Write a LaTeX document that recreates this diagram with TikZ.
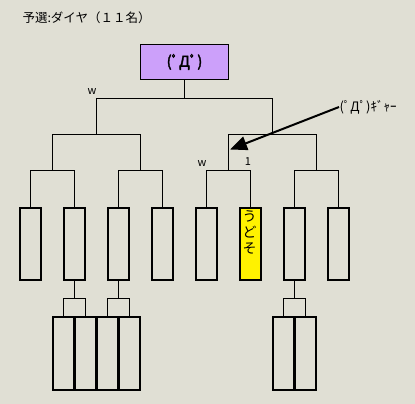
\documentclass[tikz,border=0pt]{standalone}
\usepackage{fontspec}
\newfontfamily\jp{Noto Sans CJK JP}
\newfontfamily\jpb[FakeBold=2.5]{Noto Sans CJK JP}
\usetikzlibrary{arrows.meta}
\usepackage{xcolor}
\definecolor{bg}{RGB}{224,223,212}
\definecolor{lila}{RGB}{204,160,250}

\tikzset{
  slot/.style={draw, line width=2pt, minimum width=21pt, minimum height=72pt, inner sep=0pt},
  lbl/.style={font=\jp\fontsize{11}{11}\selectfont, inner sep=0pt}
}

\begin{document}
\begin{tikzpicture}[x=1pt,y=-1pt,line width=1pt]
\useasboundingbox[fill=bg] (0,0) rectangle (415,404);
\node[font=\jp\fontsize{12.5}{12.5}\selectfont, anchor=west, inner sep=0pt] (title) at (22,18) {予選:ダイヤ（１１名）};
\node[draw, fill=lila, minimum width=88pt, minimum height=35pt, inner sep=0pt,
      font=\jpb\fontsize{15}{15}\selectfont] (champ) at (184.5,62) {(ﾟДﾟ)};
\foreach \i/\f in {1/bg,2/bg,3/bg,4/bg,5/bg,6/yellow,7/bg,8/bg}
  \node[slot, fill=\f] (r\i) at ({30.5+44*(\i-1)},243.5) {};
\node[lbl, font=\jp\fontsize{14}{16}\selectfont, align=center, anchor=north] (udo) at (249.5,210) {う\\ど\\そ};
\foreach \i/\x in {1/63,2/85,3/107,4/129,5/283,6/305}
  \node[slot, minimum height=73pt] (q\i) at (\x,353) {};
\coordinate (a1) at (52.5,170.5);
\coordinate (a2) at (140.5,170.5);
\coordinate (a3) at (228.5,170.5);
\coordinate (a4) at (316.5,170.5);
\coordinate (b1) at (96.5,134.5);
\coordinate (b2) at (272.5,134.5);
\coordinate (c) at (184.5,98.5);
\coordinate (d1) at (74.5,298.5);
\coordinate (d2) at (118.5,298.5);
\coordinate (d3) at (294.5,298.5);
\draw (r1.north) |- (a1) -| (r2.north);
\draw (r3.north) |- (a2) -| (r4.north);
\draw (r5.north) |- (a3) -| (r6.north);
\draw (r7.north) |- (a4) -| (r8.north);
\draw (a1) |- (b1) -| (a2);
\draw (a3) |- (b2) -| (a4);
\draw (b1) |- (c) -| (b2);
\draw (c) -- (champ.south);
\draw (r2.south) -- (d1);
\draw (r3.south) -- (d2);
\draw (r7.south) -- (d3);
\draw (q1.north) |- (d1) -| (q2.north);
\draw (q3.north) |- (d2) -| (q4.north);
\draw (q5.north) |- (d3) -| (q6.north);
\node[lbl] (w1) at (92,92) {w};
\node[lbl] (w2) at (202,164) {w};
\node[lbl] (one) at (248,162) {1};
\node[lbl, font=\jp\fontsize{13}{13}\selectfont, anchor=west] (gya) at (339,107) {(ﾟДﾟ)ｷﾞｬｰ};
\coordinate (tip) at (230,149.5);
\draw[line width=2pt, -{Triangle[length=17pt,width=14pt]}] (gya.west) -- (tip);
\end{tikzpicture}
\end{document}
